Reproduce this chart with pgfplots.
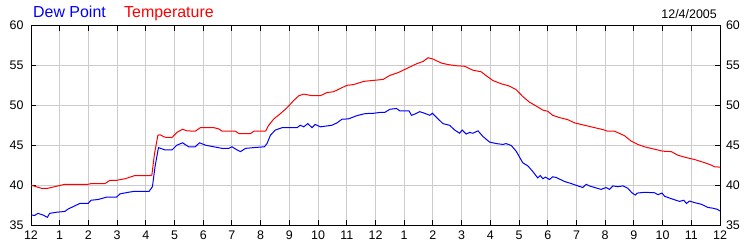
\documentclass[border=0pt]{standalone}
\usepackage{fontspec}
\setmainfont{Liberation Sans}
\usepackage{pgfplots}
\pgfplotsset{compat=1.18}
\usepackage{pgfplotstable}
\definecolor{gridgray}{RGB}{204,204,204}
\pgfplotstableread{
h T
0 40.0
0.36 39.6
0.59 39.6
0.94 39.9
1.18 40.1
1.99 40.1
2.11 40.2
2.58 40.2
2.75 40.6
2.98 40.6
3.28 40.8
3.62 41.2
4.15 41.2
4.21 41.25
4.30 43.9
4.42 46.25
4.50 46.3
4.67 46.0
4.91 45.96
5.08 46.6
5.28 47.0
5.43 46.8
5.72 46.75
5.90 47.2
6.37 47.2
6.54 47.04
6.66 46.75
7.12 46.75
7.24 46.46
7.65 46.46
7.76 46.75
8.17 46.75
8.28 47.5
8.46 48.3
8.69 48.96
8.92 49.7
9.15 50.6
9.33 51.2
9.50 51.4
9.79 51.2
10.08 51.2
10.31 51.6
10.54 51.7
10.77 52.1
11.0 52.5
11.24 52.6
11.59 53.0
11.87 53.1
12.15 53.2
12.27 53.25
12.5 53.75
12.79 54.1
13.08 54.6
13.43 55.2
13.66 55.5
13.83 55.96
14.0 55.8
14.29 55.3
14.53 55.1
14.82 54.96
15.1 54.9
15.39 54.4
15.68 54.2
15.86 53.7
16.09 53.1
16.38 52.7
16.67 52.4
16.9 51.96
17.13 51.1
17.36 50.4
17.6 49.9
17.83 49.4
18.0 49.25
18.17 48.75
18.41 48.46
18.7 48.2
18.93 47.8
19.28 47.5
19.63 47.2
19.92 46.96
20.09 46.75
20.33 46.75
20.67 46.2
20.91 45.5
21.14 45.1
21.37 44.8
21.6 44.6
22.01 44.25
22.3 44.2
22.53 43.75
22.77 43.5
23.12 43.2
23.47 42.8
23.7 42.5
23.81 42.3
24 42.25
}\temptable
\pgfplotstableread{
h D
0 36.25
0.13 36.2
0.24 36.46
0.42 36.25
0.57 35.96
0.65 36.46
0.89 36.6
1.18 36.7
1.29 37.0
1.47 37.3
1.70 37.7
1.99 37.7
2.09 38.1
2.34 38.2
2.64 38.5
2.98 38.5
3.10 38.9
3.39 39.1
3.57 39.2
4.11 39.2
4.23 39.8
4.32 42.3
4.44 44.7
4.67 44.4
4.91 44.4
5.08 45.0
5.28 45.3
5.49 44.8
5.72 44.8
5.87 45.3
6.08 45.0
6.37 44.8
6.66 44.6
6.89 44.6
7.0 44.8
7.18 44.4
7.30 44.2
7.47 44.6
7.76 44.7
8.13 44.8
8.22 45.2
8.34 46.25
8.51 46.9
8.75 47.2
9.27 47.2
9.38 47.5
9.50 47.3
9.64 47.7
9.79 47.2
9.90 47.6
10.08 47.3
10.48 47.5
10.66 47.8
10.83 48.25
11.06 48.3
11.35 48.7
11.64 48.96
11.93 49.0
12.15 49.1
12.32 49.1
12.5 49.5
12.73 49.6
12.85 49.3
13.17 49.3
13.25 48.75
13.37 48.9
13.54 49.2
13.71 49.0
13.89 48.75
13.98 49.0
14.12 48.5
14.35 47.7
14.58 47.5
14.76 46.9
14.93 46.5
15.02 46.9
15.16 46.4
15.28 46.6
15.39 46.5
15.57 46.8
15.74 46.1
15.97 45.4
16.21 45.2
16.44 45.1
16.55 45.2
16.73 44.96
16.9 44.25
17.13 42.8
17.31 42.4
17.48 41.7
17.65 40.9
17.74 41.2
17.83 40.8
17.92 41.0
18.06 40.7
18.17 41.04
18.29 40.96
18.58 40.46
18.81 40.2
19.05 39.9
19.22 39.7
19.34 40.1
19.45 39.9
19.63 39.7
19.86 39.46
20.03 39.7
20.15 39.46
20.27 39.9
20.44 39.8
20.62 39.9
20.79 39.6
20.93 39.04
21.05 38.75
21.12 39.0
21.37 39.1
21.72 39.04
21.84 38.8
21.98 39.0
22.07 38.6
22.3 38.3
22.59 37.96
22.74 38.1
22.83 37.7
22.94 38.0
23.12 37.8
23.35 37.6
23.58 37.2
23.76 37.1
23.91 36.96
24 36.75
}\dewtable
\begin{document}
\begin{tikzpicture}
\pgfplotsset{every axis/.append style={
  scale only axis, width=689bp, height=199.5bp,
  xmin=0, xmax=24, ymin=35, ymax=60,
  ytick={35,40,45,50,55,60},
  tick label style={font=\fontsize{12.5}{14}\selectfont},
  /pgf/number format/assume math mode=true,
}}
\begin{axis}[
  name=main,
  axis line style={black, line width=1bp},
  xtick={0,...,24},
  xticklabels={12,1,2,3,4,5,6,7,8,9,10,11,12,1,2,3,4,5,6,7,8,9,10,11,12},
  xtick pos=both, ytick pos=both,
  tick align=inside, major tick length=5bp,
  tick style={black, line width=1bp},
  grid=major, major grid style={gridgray, line width=1bp},
  xticklabel style={yshift=-2.5bp},
  yticklabel style={xshift=-4bp},
  yticklabel pos=left,
]
\addplot[blue, line width=1bp, mark=none] table[x=h, y=D] {\dewtable};
\addplot[red, line width=1bp, mark=none] table[x=h, y=T] {\temptable};
\end{axis}
\begin{axis}[
  hide x axis,
  axis y line*=right,
  y axis line style={draw=none},
  tick style={draw=none},
  yticklabel style={xshift=2.5bp},
]
\end{axis}
\node[anchor=base west, inner sep=0pt, text=blue, font=\fontsize{16}{19}\selectfont] at ([xshift=2bp, yshift=7.8bp]main.north west) {Dew Point};
\node[anchor=base west, inner sep=0pt, text=red, font=\fontsize{16}{19}\selectfont] at ([xshift=93bp, yshift=7.8bp]main.north west) {Temperature};
\node[anchor=base east, inner sep=0pt, text=black, font=\fontsize{12.5}{14}\selectfont] at ([xshift=-3bp, yshift=7.5bp]main.north east) {12/4/2005};
\path ([xshift=-31bp, yshift=-25bp]main.south west) rectangle ([xshift=30bp, yshift=25.5bp]main.north east);
\end{tikzpicture}
\end{document}
